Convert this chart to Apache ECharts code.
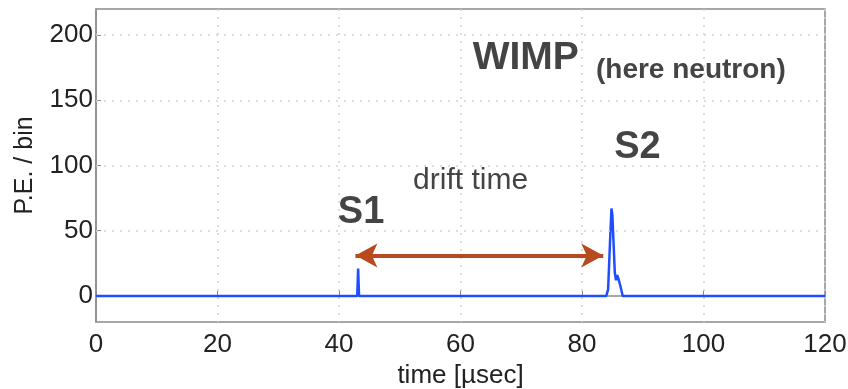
<!DOCTYPE html>
<html>
<head>
<meta charset="utf-8">
<style>
html,body{margin:0;padding:0;background:#fff;}
#main{width:848px;height:389px;}
</style>
</head>
<body>
<div id="main"></div>
<script src="https://cdn.jsdelivr.net/npm/echarts@6/dist/echarts.min.js"></script>
<script type="text/javascript">
// waveform: time in usec, photo-electrons per bin
var timeUs = [0, 43.0, 43.15, 43.3, 84.0, 84.3, 84.6, 84.85, 85.0, 85.2, 85.4, 85.6, 85.8, 86.0, 86.3, 86.7, 120];
var peValues = [0, 0, 21, 0, 0, 5, 40, 67, 62, 40, 18, 12, 16, 13, 8, 0, 0];

var xTicks = [0, 20, 40, 60, 80, 100, 120];
var yTicks = [0, 50, 100, 150, 200];
var yGrid = [50, 100, 150, 200];

// drift time arrow, from S1 to S2
var arrowFrom = [42.7, 31];
var arrowTo = [83.5, 31];

// text notes: [time, value, text, size, bold]
var notes = [
    [62.0, 182, 'WIMP', 39, true],
    [82.3, 173, '(here neutron)', 28, true],
    [85.3, 114, 'S2', 38, true],
    [39.8, 64, 'S1', 38, true],
    [52.2, 88, 'drift time', 30, false]
];

var font = '"Liberation Sans", Arial, Helvetica, sans-serif';
var myChart = echarts.init(document.getElementById('main'));

var dotted = { color: '#d2d2d2', type: [2, 6], width: 1.5 };

var series = [{
    // dotted horizontal grid lines (axis min is not a multiple of the tick step)
    type: 'line',
    data: [],
    silent: true,
    markLine: {
        silent: true,
        symbol: 'none',
        label: { show: false },
        lineStyle: dotted,
        data: yGrid.map(function (v) { return { yAxis: v }; })
    }
}, {
    type: 'line',
    data: timeUs.map(function (t, i) { return [t, peValues[i]]; }),
    showSymbol: false,
    symbol: 'none',
    lineStyle: { color: '#1f4dff', width: 2.5 },
    silent: true,
    markLine: {
        silent: true,
        symbol: ['arrow', 'arrow'],
        symbolSize: [18, 22],
        lineStyle: { color: '#b84a1f', width: 4, type: 'solid' },
        itemStyle: { color: '#b84a1f' },
        label: { show: false },
        data: [[{ coord: arrowFrom }, { coord: arrowTo }]]
    },
    markPoint: {
        silent: true,
        symbol: 'circle',
        symbolSize: 0,
        data: notes.map(function (n) {
            return {
                coord: [n[0], n[1]],
                label: {
                    show: true,
                    position: 'right',
                    distance: 0,
                    formatter: n[2],
                    fontSize: n[3],
                    fontWeight: n[4] ? 'bold' : 'normal',
                    fontFamily: font,
                    color: '#444'
                }
            };
        })
    }
}];

var option = {
    animation: false,
    grid: {
        left: 96, right: 23, top: 9, bottom: 67,
        outerBoundsMode: 'none',
        show: true, borderColor: '#8a8a8a', borderWidth: 1.5
    },
    xAxis: {
        type: 'value',
        min: 0, max: 120, interval: 20,
        name: 'time [\u00b5sec]',
        nameLocation: 'middle',
        nameGap: 39,
        nameTextStyle: { fontSize: 26, fontFamily: font, color: '#222' },
        axisLine: { lineStyle: { color: '#8a8a8a', width: 1.5 } },
        axisTick: { inside: true, length: 5, lineStyle: { color: '#8a8a8a' } },
        axisLabel: {
            fontSize: 26, fontFamily: font, color: '#222', margin: 10,
            formatter: function (v) { return xTicks.indexOf(v) >= 0 ? v : ''; }
        },
        splitLine: { show: true, lineStyle: dotted }
    },
    yAxis: {
        type: 'value',
        min: -20, max: 220,
        name: 'P.E. / bin',
        nameLocation: 'middle',
        nameGap: 58,
        nameTextStyle: { fontSize: 25, fontFamily: font, color: '#222' },
        axisLine: { show: true, lineStyle: { color: '#8a8a8a', width: 1.5 } },
        axisTick: { inside: true, length: 5, customValues: yTicks, lineStyle: { color: '#8a8a8a' } },
        axisLabel: {
            fontSize: 26, fontFamily: font, color: '#222', margin: 3,
            customValues: yTicks
        },
        splitLine: { show: false }
    },
    series: series
};
myChart.setOption(option);
</script>
</body>
</html>
